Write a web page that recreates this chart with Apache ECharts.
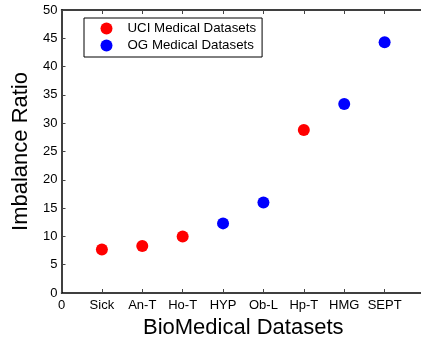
<!DOCTYPE html>
<html>
<head>
<meta charset="utf-8">
<script src="https://cdn.jsdelivr.net/npm/echarts@6/dist/echarts.min.js"></script>
<style>
html,body{margin:0;padding:0;background:#fff;overflow:hidden;}
#c{width:421px;height:337px;}
</style>
</head>
<body>
<div id="c"></div>
<script>
var categories = ['Sick','An-T','Ho-T','HYP','Ob-L','Hp-T','HMG','SEPT'];
var ratios = [7.7, 8.3, 10.0, 12.3, 16.0, 28.8, 33.4, 44.3];
var groups = ['UCI','UCI','UCI','OG','OG','UCI','OG','OG'];
var seriesNames = {UCI:'UCI Medical Datasets', OG:'OG Medical Datasets'};
var seriesColors = {UCI:'#ff0000', OG:'#0000ff'};
var yTicks = [0,5,10,15,20,25,30,35,40,45,50];

function pts(g){
  var out = [];
  for (var i=0;i<categories.length;i++){
    if (groups[i]===g) out.push([i+1, ratios[i]]);
  }
  return out;
}
var font = 'Liberation Sans, Arial, sans-serif';
var chart = echarts.init(document.getElementById('c'), null, {renderer:'canvas'});
var axisLineStyle = {color:'#000', width:1.5};
var tickStyle = {show:true, inside:true, length:4, lineStyle:{color:'#444', width:1}};
chart.setOption({
  animation:false,
  backgroundColor:'#fff',
  grid:{left:61.5, top:10, width:363.5, height:283, containLabel:false, outerBoundsMode:'none'},
  legend:{
    left:84, top:18,
    orient:'vertical',
    data:[seriesNames.UCI, seriesNames.OG],
    itemWidth:12, itemHeight:12, itemGap:4,
    padding:[4,6,5,16.5],
    borderColor:'#000', borderWidth:1, backgroundColor:'#fff', borderRadius:0,
    textStyle:{fontFamily:font, fontSize:13.3, color:'#000', padding:[0,0,0,10]}
  },
  xAxis:[{
    type:'value', min:0, max:9, interval:1,
    name:'BioMedical Datasets', nameLocation:'middle', nameGap:16,
    nameTextStyle:{fontFamily:font, fontSize:22, color:'#000', verticalAlign:'top'},
    axisLine:{show:true, lineStyle:axisLineStyle},
    axisTick:tickStyle,
    splitLine:{show:false},
    axisLabel:{fontFamily:font, fontSize:13, color:'#000', margin:6,
      formatter:function(v){ if(v===0) return '0'; var i=Math.round(v)-1; return (i>=0 && i<categories.length)?categories[i]:''; }}
  },{
    type:'value', position:'top', min:0, max:9, interval:1,
    axisLine:{show:true, lineStyle:axisLineStyle},
    axisTick:tickStyle, axisLabel:{show:false}, splitLine:{show:false}
  }],
  yAxis:[{
    type:'value', min:yTicks[0], max:yTicks[yTicks.length-1], interval:5,
    name:'Imbalance Ratio', nameLocation:'middle', nameGap:25,
    nameTextStyle:{fontFamily:font, fontSize:22, color:'#000'},
    axisLine:{show:true, lineStyle:axisLineStyle},
    axisTick:tickStyle,
    splitLine:{show:false},
    axisLabel:{fontFamily:font, fontSize:13, color:'#000', margin:4}
  }],
  series:[{
    name:seriesNames.UCI, type:'scatter', data:pts('UCI'), symbol:'circle', symbolSize:12,
    itemStyle:{color:seriesColors.UCI, opacity:1}
  },{
    name:seriesNames.OG, type:'scatter', data:pts('OG'), symbol:'circle', symbolSize:12,
    itemStyle:{color:seriesColors.OG, opacity:1}
  }]
});
</script>
</body>
</html>
